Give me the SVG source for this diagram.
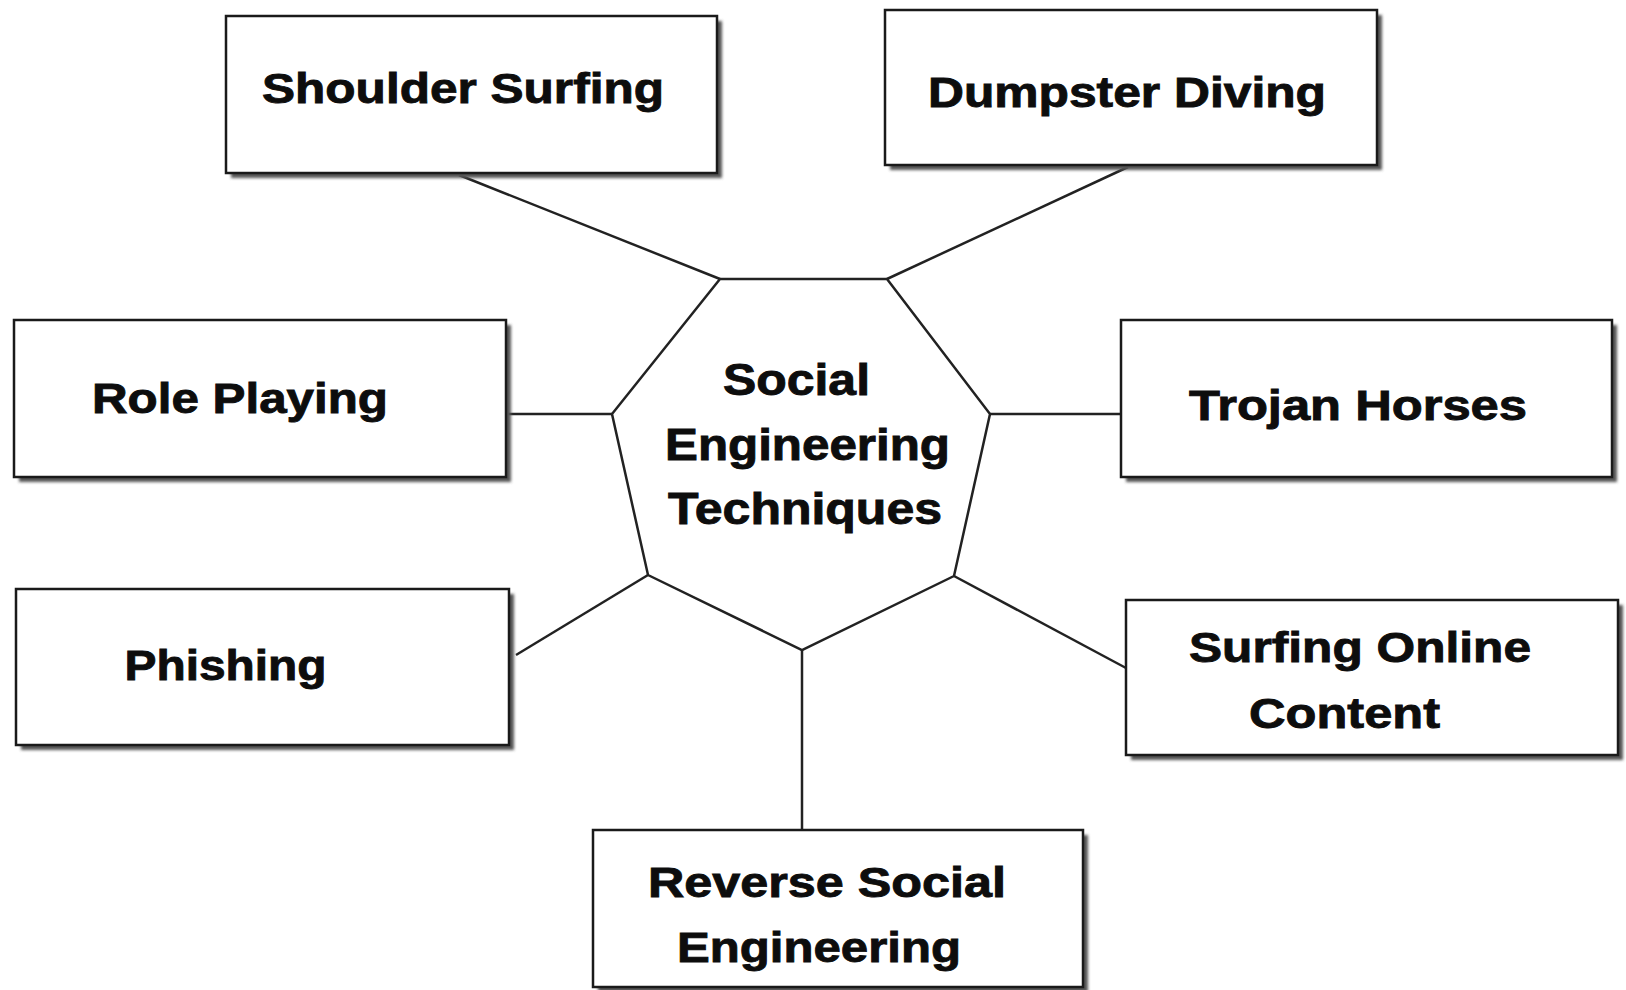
<svg xmlns="http://www.w3.org/2000/svg" width="1626" height="990" viewBox="0 0 1626 990">
<defs>
<style>
.box{fill:#fff;stroke:#1a1a1a;stroke-width:2.5}
.shadow{fill:#555;filter:url(#blur)}
.hept{fill:#fff;stroke:#222;stroke-width:2.5}
.lbl{font-family:"Liberation Sans",Arial,sans-serif;font-weight:bold;font-size:43px;fill:#0d0d0d;stroke:#0d0d0d;stroke-width:0.9;text-anchor:middle}
.big{font-size:44px}
.conn line{stroke:#222;stroke-width:2.5}
</style>
<filter id="blur" x="-5%" y="-5%" width="110%" height="110%"><feGaussianBlur stdDeviation="1.5"/></filter>
</defs>
<rect width="1626" height="990" fill="#fff"/>
<g class="conn" id="connectors">
<line x1="459" y1="175" x2="720" y2="279"/>
<line x1="1128" y1="167" x2="887" y2="279"/>
<line x1="506" y1="414" x2="612" y2="414"/>
<line x1="990" y1="414" x2="1121" y2="414"/>
<line x1="516" y1="655" x2="648" y2="575"/>
<line x1="954" y1="576" x2="1126" y2="668"/>
<line x1="802" y1="650" x2="802" y2="830"/>
</g>
<g id="center">
<polygon class="hept" points="720,279 887,279 990,414 954,576 802,650 648,575 612,414"/>
<text class="lbl big" x="796.5" y="395" textLength="147" lengthAdjust="spacingAndGlyphs">Social</text>
<text class="lbl big" x="807.5" y="460" textLength="285" lengthAdjust="spacingAndGlyphs">Engineering</text>
<text class="lbl big" x="805" y="524" textLength="274" lengthAdjust="spacingAndGlyphs">Techniques</text>
</g>
<g id="shoulder-surfing">
<rect class="shadow" x="231" y="21" width="491" height="157"/>
<rect class="box" x="226" y="16" width="491" height="157"/>
<text class="lbl" x="463" y="103" textLength="402" lengthAdjust="spacingAndGlyphs">Shoulder Surfing</text>
</g>
<g id="dumpster-diving">
<rect class="shadow" x="890" y="15" width="492" height="155"/>
<rect class="box" x="885" y="10" width="492" height="155"/>
<text class="lbl" x="1127" y="107" textLength="398" lengthAdjust="spacingAndGlyphs">Dumpster Diving</text>
</g>
<g id="role-playing">
<rect class="shadow" x="19" y="325" width="492" height="157"/>
<rect class="box" x="14" y="320" width="492" height="157"/>
<text class="lbl" x="240" y="413" textLength="296" lengthAdjust="spacingAndGlyphs">Role Playing</text>
</g>
<g id="trojan-horses">
<rect class="shadow" x="1126" y="325" width="491" height="157"/>
<rect class="box" x="1121" y="320" width="491" height="157"/>
<text class="lbl" x="1358" y="420" textLength="338" lengthAdjust="spacingAndGlyphs">Trojan Horses</text>
</g>
<g id="phishing">
<rect class="shadow" x="21" y="594" width="493" height="156"/>
<rect class="box" x="16" y="589" width="493" height="156"/>
<text class="lbl" x="225.5" y="680" textLength="202" lengthAdjust="spacingAndGlyphs">Phishing</text>
</g>
<g id="surfing-online-content">
<rect class="shadow" x="1131" y="605" width="492" height="155"/>
<rect class="box" x="1126" y="600" width="492" height="155"/>
<text class="lbl" x="1360" y="662" textLength="342" lengthAdjust="spacingAndGlyphs">Surfing Online</text>
<text class="lbl" x="1344.5" y="728" textLength="191" lengthAdjust="spacingAndGlyphs">Content</text>
</g>
<g id="reverse-social-engineering">
<rect class="shadow" x="598" y="835" width="490" height="157"/>
<rect class="box" x="593" y="830" width="490" height="157"/>
<text class="lbl" x="827" y="897" textLength="358" lengthAdjust="spacingAndGlyphs">Reverse Social</text>
<text class="lbl" x="819" y="962" textLength="284" lengthAdjust="spacingAndGlyphs">Engineering</text>
</g>
</svg>
